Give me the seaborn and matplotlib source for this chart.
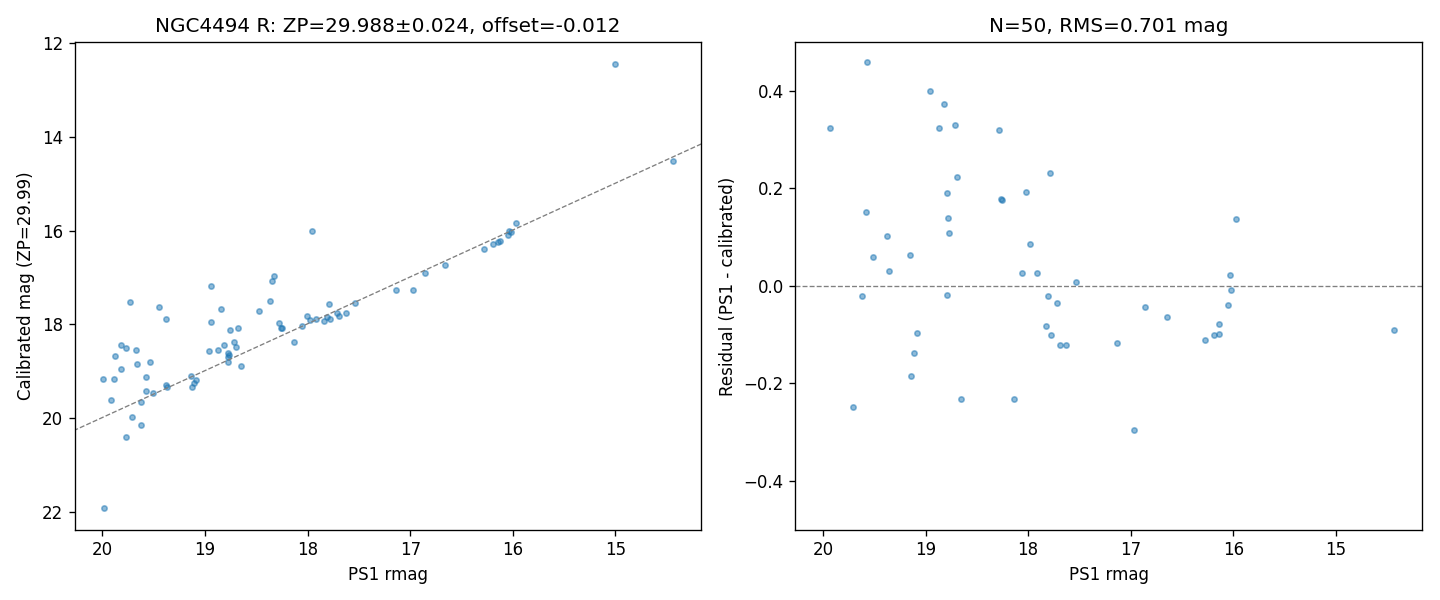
import matplotlib
matplotlib.use("Agg")
import matplotlib.pyplot as plt
import seaborn as sns
import pandas as pd

# calibrated sample (left panel)
ps1_all = [19.98, 15.00, 14.44, 19.73, 19.45, 19.38, 18.94, 18.84, 18.94, 18.76,
           18.68, 18.37, 18.47, 18.35, 18.33, 19.82, 19.77, 19.67, 19.88, 19.82,
           19.66, 19.54, 19.99, 19.89, 19.57, 19.57, 19.51, 19.62, 19.92, 19.71,
           19.62, 19.77, 19.38, 19.37, 19.14, 19.09, 19.11, 19.13, 18.96, 18.87,
           18.81, 18.72, 18.70, 18.78, 18.77, 18.78, 18.78, 18.65, 18.28, 18.26,
           18.25, 18.13, 18.05, 18.01, 17.98, 17.92, 17.84, 17.81, 17.79, 17.78,
           17.71, 17.69, 17.63, 17.54, 17.96, 17.14, 16.97, 16.86, 16.66, 16.28,
           16.19, 16.14, 16.13, 16.05, 16.04, 16.02, 15.97]
cal_all = [21.91, 12.45, 14.52, 17.52, 17.63, 17.88, 17.18, 17.67, 17.95, 18.12,
           18.07, 17.50, 17.71, 17.07, 16.96, 18.44, 18.50, 18.54, 18.67, 18.95,
           18.84, 18.80, 19.16, 19.16, 19.12, 19.42, 19.46, 19.66, 19.61, 19.98,
           20.15, 20.40, 19.29, 19.34, 19.10, 19.19, 19.25, 19.34, 18.57, 18.54,
           18.44, 18.37, 18.48, 18.61, 18.65, 18.69, 18.80, 18.89, 17.97, 18.07,
           18.07, 18.37, 18.03, 17.82, 17.90, 17.88, 17.93, 17.84, 17.56, 17.88,
           17.75, 17.82, 17.75, 17.54, 16.00, 17.26, 17.26, 16.90, 16.73, 16.39,
           16.28, 16.24, 16.22, 16.09, 16.00, 16.02, 15.83]

# residuals (right panel)
ps1_match = [19.57, 19.93, 18.96, 18.82, 18.87, 18.71, 18.28, 18.69, 18.79, 18.26,
             18.25, 19.58, 18.78, 19.38, 18.77, 19.51, 19.15, 19.36, 19.62, 18.79,
             19.08, 19.11, 19.14, 19.71, 18.65, 18.14, 17.79, 18.02, 15.97, 17.98,
             18.06, 17.91, 17.53, 16.03, 16.02, 17.81, 17.72, 16.05, 16.86, 16.65,
             17.83, 17.78, 17.69, 17.63, 17.13, 16.14, 16.19, 16.14, 16.28, 16.97,
             14.44]
resid = [0.459, 0.323, 0.399, 0.373, 0.323, 0.330, 0.319, 0.223, 0.190, 0.178,
         0.176, 0.151, 0.139, 0.102, 0.108, 0.059, 0.063, 0.030, -0.021, -0.019,
         -0.097, -0.138, -0.185, -0.249, -0.232, -0.232, 0.231, 0.192, 0.137, 0.086,
         0.026, 0.026, 0.008, 0.022, -0.009, -0.021, -0.035, -0.040, -0.044, -0.064,
         -0.083, -0.101, -0.122, -0.122, -0.118, -0.079, -0.101, -0.099, -0.111, -0.296,
         -0.090]

zp = 29.988
zp_err = 0.024
offset = -0.012
rms = 0.701
n_used = 50

df_all = pd.DataFrame({"ps1": ps1_all, "cal": cal_all})
df_res = pd.DataFrame({"ps1": ps1_match, "resid": resid})

fig, (ax1, ax2) = plt.subplots(1, 2, figsize=(12, 5), dpi=120, sharex=True)
fig.subplots_adjust(left=0.052, right=0.9875, top=0.93, bottom=0.117, wspace=0.15)

pt = dict(s=10, alpha=0.5, color="C0", edgecolor="C0", linewidth=1)

sns.scatterplot(data=df_all, x="ps1", y="cal", ax=ax1, **pt)
# 1:1 relation shifted by the offset, anchored inside the data range
x0 = min(ps1_all)
ax1.axline((x0, x0 + offset), slope=1, color="gray", ls="--", lw=0.8)
ax1.invert_xaxis()
ax1.invert_yaxis()
ax1.set_xlabel("PS1 rmag")
ax1.set_ylabel(f"Calibrated mag (ZP={zp:.2f})")
ax1.set_title(f"NGC4494 R: ZP={zp:.3f}\u00b1{zp_err:.3f}, offset={offset:.3f}")

sns.scatterplot(data=df_res, x="ps1", y="resid", ax=ax2, **pt)
ax2.axhline(0, color="gray", ls="--", lw=0.8)
ax2.set_ylim(-0.5, 0.5)
ax2.set_xlabel("PS1 rmag")
ax2.set_ylabel("Residual (PS1 - calibrated)")
ax2.set_title(f"N={n_used}, RMS={rms:.3f} mag")

fig.savefig("out.png", dpi=120)
